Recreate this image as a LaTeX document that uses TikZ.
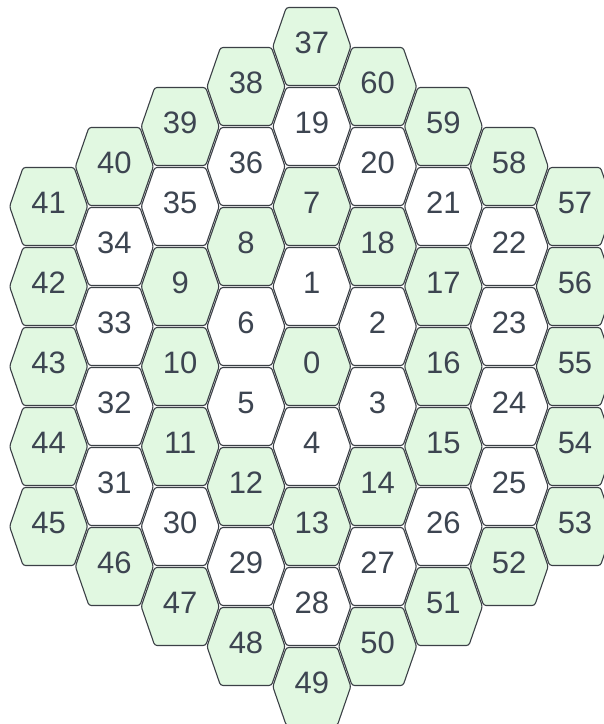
\documentclass[tikz,border=0pt]{standalone}
\usepackage{fontspec}
\setmainfont{Liberation Sans}
\usepackage{tikz}
\usetikzlibrary{positioning}
\definecolor{gr}{HTML}{E1F8E1}
\colorlet{wh}{white}
\definecolor{cellline}{HTML}{3B4046}
\definecolor{celltext}{HTML}{3D4551}

\tikzset{
  hexcell/.style={draw=cellline, line width=1.1pt, rounded corners=2.5pt},
  hexlabel/.style={text=celltext, font=\fontsize{31}{37}\selectfont, inner sep=0pt}
}

\begin{document}
\begin{tikzpicture}[x=1pt, y=1pt]
  \path[use as bounding box, clip] (0,0) rectangle (604,724);
  % columns left to right, cells top to bottom (number/fill)
  % half width 39, half top edge 25.5, half height 39
  \foreach \c/\cells in {
      -4/{41/gr,42/gr,43/gr,44/gr,45/gr},
      -3/{40/gr,34/wh,33/wh,32/wh,31/wh,46/gr},
      -2/{39/gr,35/wh,9/gr,10/gr,11/gr,30/wh,47/gr},
      -1/{38/gr,36/wh,8/gr,6/wh,5/wh,12/gr,29/wh,48/gr},
       0/{37/gr,19/wh,7/gr,1/wh,0/gr,4/wh,13/gr,28/wh,49/gr},
       1/{60/gr,20/wh,18/gr,2/wh,3/wh,14/gr,27/wh,50/gr},
       2/{59/gr,21/wh,17/gr,16/gr,15/gr,26/wh,51/gr},
       3/{58/gr,22/wh,23/wh,24/wh,25/wh,52/gr},
       4/{57/gr,56/gr,55/gr,54/gr,53/gr}} {
    \foreach \n/\t [count=\r from 0] in \cells {
      \pgfmathsetmacro{\xc}{311.8 + 65.8*\c}
      \pgfmathsetmacro{\yc}{724 - 46.5 - 40*abs(\c) - 80*\r}
      \draw[hexcell, fill=\t, shift={(\xc,\yc)}]
        (-39,0) -- (-25.5,39) -- (25.5,39) -- (39,0) -- (25.5,-39) -- (-25.5,-39) -- cycle;
      \node[hexlabel] (cell\n) at (\xc, \yc + 3.5) {\n};
    }
  }
\end{tikzpicture}
\end{document}
